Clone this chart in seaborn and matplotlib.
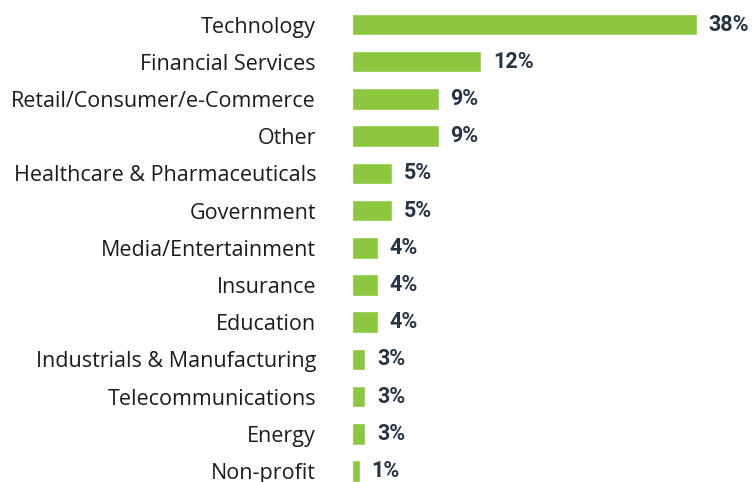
import matplotlib
matplotlib.use("Agg")
import matplotlib.pyplot as plt
import pandas as pd
import seaborn as sns

# --- data ---
sectors = [
    "Technology", "Financial Services", "Retail/Consumer/e-Commerce", "Other",
    "Healthcare & Pharmaceuticals", "Government", "Media/Entertainment",
    "Insurance", "Education", "Industrials & Manufacturing",
    "Telecommunications", "Energy", "Non-profit",
]
# bar lengths as drawn in the picture (they are not strictly proportional to the labels)
bar_length = [38, 14.3, 9.6, 9.6, 4.5, 4.5, 2.9, 2.9, 2.9, 1.5, 1.5, 1.5, 0.9]
pct_labels = ["38%", "12%", "9%", "9%", "5%", "5%", "4%", "4%", "4%", "3%", "3%", "3%", "1%"]

GREEN = "#8dc63f"
NAVY = "#263445"
TEXT = "#1c1c1c"

df = pd.DataFrame({"sector": sectors, "share": bar_length})

sns.set_style("white")
plt.rcParams["font.family"] = ["Open Sans", "DejaVu Sans"]

fig = plt.figure(figsize=(7.53, 4.82), dpi=100)
ax = fig.add_axes([351.5 / 753, 0, 401.5 / 753, 1])

sns.barplot(data=df, x="share", y="sector", orient="h", color=GREEN,
            saturation=1, width=0.578, ax=ax)

ax.bar_label(ax.containers[0], labels=pct_labels, padding=8.5,
             fontsize=15.5, fontweight="bold", color=NAVY,
             family=["Roboto", "DejaVu Sans"])

ax.set_xlim(0, 401.5 / 9.08)
ax.set_ylim(12.296, -0.659)
ax.set_xlabel("")
ax.set_ylabel("")
ax.set_xticks([])
ax.tick_params(axis="y", left=False, length=0, pad=25.5,
               labelsize=15.5, labelcolor=TEXT)
sns.despine(ax=ax, left=True, bottom=True)

fig.savefig("out.png", dpi=100)
